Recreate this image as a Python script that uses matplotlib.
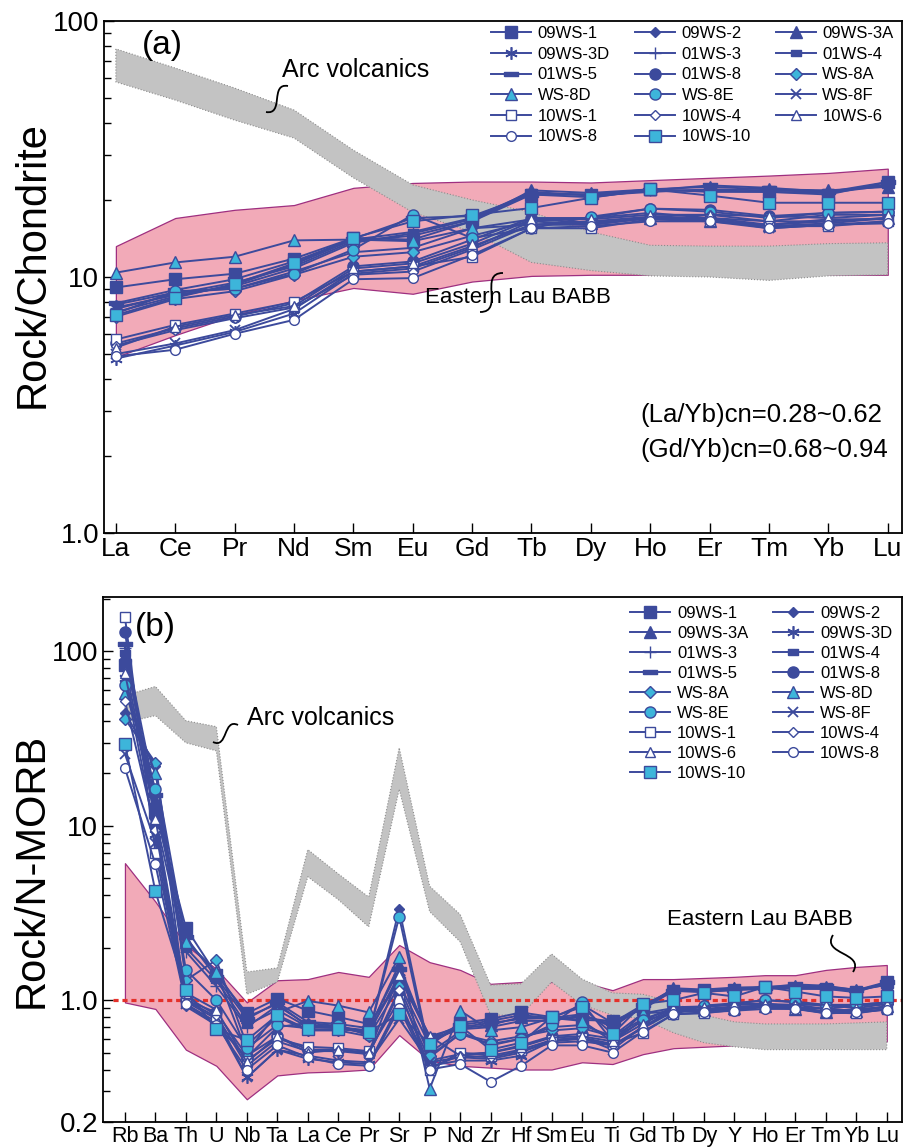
import numpy as np
import matplotlib.pyplot as plt
from matplotlib.path import Path
from matplotlib.patches import PathPatch
from matplotlib.ticker import FixedLocator, LogLocator, NullFormatter

plt.rcParams['font.family'] = ['Liberation Sans', 'DejaVu Sans']

DARK = '#3C4A9C'
LIGHT = '#3DB5DA'
PINK = '#F2AAB8'
PINK_EDGE = '#9E2F80'
GREY = '#C3C3C3'

samples = ['09WS-1', '09WS-2', '09WS-3A', '09WS-3D', '01WS-3', '01WS-4',
           '01WS-5', '01WS-8', 'WS-8A', 'WS-8D', 'WS-8E', 'WS-8F',
           '10WS-1', '10WS-4', '10WS-6', '10WS-8', '10WS-10']

# --- chondrite-normalised REE ---
ree = ['La', 'Ce', 'Pr', 'Nd', 'Sm', 'Eu', 'Gd', 'Tb', 'Dy', 'Ho', 'Er', 'Tm', 'Yb', 'Lu']
ree_values = [
    [9.1, 9.8, 10.3, 11.8, 14.2, 14.0, 16.5, 21.0, 21.0, 22.0, 21.5, 21.5, 21.0, 23.5],
    [7.8, 8.7, 9.0, 10.5, 12.5, 13.0, 15.5, 16.0, 16.0, 17.0, 16.8, 15.8, 16.2, 17.0],
    [7.5, 8.6, 9.5, 11.0, 13.8, 14.5, 16.5, 21.8, 21.3, 22.0, 22.5, 22.0, 21.8, 22.5],
    [4.8, 5.4, 6.1, 7.2, 10.3, 10.8, 13.0, 16.5, 16.0, 17.0, 17.0, 16.0, 16.8, 16.8],
    [7.6, 8.5, 9.2, 10.8, 13.6, 14.8, 16.8, 21.2, 21.0, 21.8, 21.8, 21.5, 21.3, 22.8],
    [7.3, 8.4, 9.3, 11.2, 14.0, 15.0, 17.0, 21.5, 20.8, 21.5, 22.0, 21.8, 21.5, 23.0],
    [7.9, 8.9, 9.8, 11.5, 14.1, 17.0, 17.3, 21.0, 20.5, 21.8, 22.8, 22.3, 21.5, 23.5],
    [5.5, 6.3, 7.0, 7.9, 11.0, 11.5, 14.0, 17.0, 17.0, 18.5, 18.3, 17.3, 17.8, 18.0],
    [7.0, 8.2, 8.8, 10.2, 12.0, 12.5, 14.5, 16.5, 17.0, 17.8, 17.0, 16.5, 17.5, 17.5],
    [10.4, 11.4, 12.0, 13.9, 14.0, 13.8, 15.5, 16.8, 16.3, 17.0, 16.5, 16.0, 16.5, 17.0],
    [7.2, 8.8, 9.0, 10.3, 12.8, 17.5, 14.2, 15.5, 17.2, 18.5, 18.0, 17.0, 17.8, 18.0],
    [5.0, 5.5, 6.2, 7.5, 10.5, 11.0, 13.2, 16.0, 16.2, 17.0, 16.8, 15.5, 16.0, 16.5],
    [5.7, 6.5, 7.2, 8.0, 10.5, 11.0, 12.0, 15.5, 15.5, 16.8, 16.5, 15.8, 15.8, 16.5],
    [5.4, 6.2, 6.9, 7.6, 10.2, 10.5, 12.8, 16.0, 16.5, 17.2, 17.5, 16.5, 16.5, 17.0],
    [5.3, 6.4, 7.1, 7.7, 10.8, 11.3, 13.5, 16.8, 16.8, 17.5, 17.5, 17.3, 17.0, 17.5],
    [4.9, 5.2, 6.0, 6.8, 9.8, 9.9, 12.2, 15.5, 15.8, 16.5, 16.5, 15.5, 16.0, 16.2],
    [7.1, 8.3, 9.4, 11.3, 14.2, 16.5, 17.5, 18.6, 20.4, 22.0, 20.8, 19.5, 19.5, 19.5],
]
lau_ree_hi = [13.2, 17.0, 18.3, 19.1, 22.3, 23.3, 23.6, 23.6, 23.4, 23.9, 24.4, 24.9, 25.5, 26.5]
lau_ree_lo = [4.87, 5.93, 7.1, 8.1, 9.06, 8.6, 9.6, 10.1, 10.2, 10.2, 10.2, 10.2, 10.2, 10.2]
arc_ree_hi = [77.8, 65.5, 54.7, 44.9, 31.3, 22.9, 20.0, 17.9, 15.0, 13.3, 13.2, 13.2, 13.5, 13.6]
arc_ree_lo = [57.8, 49.1, 41.0, 34.9, 24.4, 17.9, 15.0, 11.4, 10.6, 10.1, 10.0, 9.7, 10.1, 10.2]

# --- N-MORB-normalised trace elements ---
spider = ['Rb', 'Ba', 'Th', 'U', 'Nb', 'Ta', 'La', 'Ce', 'Pr', 'Sr', 'P', 'Nd', 'Zr',
          'Hf', 'Sm', 'Eu', 'Ti', 'Gd', 'Tb', 'Dy', 'Y', 'Ho', 'Er', 'Tm', 'Yb', 'Lu']
spider_values = [
    [83, 12, 2.6, 1.4, 0.84, 1.02, 0.87, 0.80, 0.73, 1.25, 0.55, 0.74, 0.78, 0.85, 0.80, 0.77, 0.76, 0.89, 1.13, 1.14, 1.15, 1.19, 1.16, 1.16, 1.11, 1.27],
    [44.6, 22, 0.92, 0.72, 0.47, 0.70, 0.74, 0.71, 0.63, 3.34, 0.50, 0.66, 0.55, 0.60, 0.70, 0.72, 0.62, 0.84, 0.86, 0.86, 0.90, 0.92, 0.90, 0.85, 0.86, 0.92],
    [95, 14, 2.2, 1.45, 0.80, 0.95, 0.71, 0.70, 0.67, 1.6, 0.58, 0.69, 0.72, 0.80, 0.78, 0.80, 0.75, 0.89, 1.17, 1.15, 1.18, 1.19, 1.21, 1.19, 1.15, 1.22],
    [70, 9, 1.0, 0.80, 0.36, 0.52, 0.46, 0.44, 0.43, 0.95, 0.42, 0.45, 0.45, 0.48, 0.58, 0.60, 0.55, 0.70, 0.89, 0.86, 0.90, 0.92, 0.91, 0.86, 0.89, 0.91],
    [105, 11, 1.9, 1.2, 0.70, 0.93, 0.72, 0.70, 0.65, 1.4, 0.60, 0.68, 0.70, 0.76, 0.76, 0.82, 0.72, 0.91, 1.14, 1.14, 1.16, 1.18, 1.17, 1.16, 1.13, 1.23],
    [98, 13, 2.0, 1.3, 0.72, 0.88, 0.70, 0.69, 0.65, 1.35, 0.62, 0.70, 0.74, 0.78, 0.79, 0.83, 0.70, 0.92, 1.16, 1.12, 1.14, 1.16, 1.18, 1.18, 1.14, 1.24],
    [110, 15, 2.3, 1.35, 0.78, 0.97, 0.75, 0.73, 0.69, 1.5, 0.60, 0.72, 0.76, 0.82, 0.79, 0.94, 0.74, 0.94, 1.13, 1.11, 1.15, 1.18, 1.23, 1.21, 1.14, 1.27],
    [129, 10, 1.0, 0.85, 0.48, 0.62, 0.52, 0.52, 0.49, 1.1, 0.45, 0.49, 0.50, 0.55, 0.62, 0.64, 0.60, 0.76, 0.91, 0.92, 0.95, 1.00, 0.98, 0.94, 0.94, 0.97],
    [41, 23, 1.3, 1.7, 0.55, 0.80, 0.67, 0.67, 0.62, 1.2, 0.48, 0.64, 0.58, 0.62, 0.67, 0.69, 0.62, 0.78, 0.89, 0.92, 0.94, 0.96, 0.91, 0.89, 0.93, 0.95],
    [58, 20, 2.16, 1.45, 0.50, 0.85, 0.99, 0.93, 0.85, 1.77, 0.31, 0.87, 0.67, 0.70, 0.79, 0.76, 0.58, 0.84, 0.90, 0.88, 0.90, 0.92, 0.89, 0.86, 0.87, 0.92],
    [64, 16.2, 1.49, 1.0, 0.53, 0.72, 0.69, 0.72, 0.63, 3.0, 0.47, 0.64, 0.56, 0.60, 0.72, 0.97, 0.58, 0.77, 0.83, 0.93, 0.96, 1.00, 0.97, 0.92, 0.94, 0.97],
    [25.8, 8, 0.95, 0.75, 0.36, 0.52, 0.48, 0.45, 0.44, 0.78, 0.44, 0.47, 0.46, 0.50, 0.59, 0.61, 0.52, 0.71, 0.86, 0.88, 0.90, 0.92, 0.90, 0.84, 0.85, 0.89],
    [157, 7, 0.98, 0.78, 0.45, 0.60, 0.54, 0.53, 0.51, 1.0, 0.40, 0.50, 0.48, 0.52, 0.59, 0.61, 0.56, 0.65, 0.83, 0.84, 0.88, 0.91, 0.89, 0.85, 0.84, 0.89],
    [52, 9.5, 1.05, 0.82, 0.42, 0.58, 0.51, 0.51, 0.49, 1.15, 0.41, 0.48, 0.47, 0.51, 0.57, 0.58, 0.55, 0.69, 0.86, 0.89, 0.92, 0.93, 0.94, 0.89, 0.87, 0.92],
    [75, 11, 1.1, 0.88, 0.44, 0.62, 0.50, 0.52, 0.50, 1.4, 0.62, 0.48, 0.50, 0.54, 0.61, 0.62, 0.58, 0.73, 0.90, 0.91, 0.95, 0.95, 0.94, 0.94, 0.90, 0.95],
    [21.4, 6, 0.95, 0.72, 0.40, 0.55, 0.47, 0.43, 0.42, 0.9, 0.40, 0.43, 0.34, 0.42, 0.55, 0.55, 0.50, 0.66, 0.83, 0.85, 0.87, 0.89, 0.89, 0.84, 0.85, 0.88],
    [29.5, 4.2, 1.14, 0.68, 0.59, 0.82, 0.68, 0.68, 0.66, 0.83, 0.56, 0.71, 0.52, 0.57, 0.80, 0.91, 0.64, 0.95, 1.00, 1.10, 1.05, 1.19, 1.12, 1.05, 1.03, 1.05],
]
lau_sp_hi = [6.1, 3.67, 2.07, 1.51, 0.97, 1.30, 1.32, 1.45, 1.36, 2.07, 1.65, 1.49, 1.24,
             1.27, 1.27, 1.27, 1.14, 1.32, 1.32, 1.34, 1.36, 1.39, 1.39, 1.49, 1.55, 1.59]
lau_sp_lo = [0.97, 0.89, 0.52, 0.42, 0.27, 0.37, 0.385, 0.39, 0.40, 0.63, 0.45, 0.42, 0.41,
             0.40, 0.40, 0.44, 0.43, 0.49, 0.53, 0.54, 0.55, 0.56, 0.56, 0.57, 0.57, 0.58]
arc_sp_hi = [55.8, 62.9, 40.0, 37.0, 1.45, 1.53, 7.3, 5.3, 3.9, 28.0, 4.5, 3.1, 1.22,
             1.24, 1.84, 1.32, 1.10, 1.08, 0.97, 0.82, 0.75, 0.73, 0.73, 0.73, 0.74, 0.75]
arc_sp_lo = [39.0, 42.8, 29.9, 26.9, 1.08, 1.27, 5.1, 3.77, 2.63, 16.2, 3.22, 2.16, 0.82,
             0.82, 1.27, 0.94, 0.82, 0.78, 0.65, 0.57, 0.54, 0.52, 0.52, 0.52, 0.52, 0.52]

# marker for each sample, same order as samples
rect_small = [(-1, -0.55), (1, -0.55), (1, 0.55), (-1, 0.55), (-1, -0.55)]
rect_flat = [(-1, -0.3), (1, -0.3), (1, 0.3), (-1, 0.3), (-1, -0.3)]
styles = [
    dict(marker='s', mfc=DARK, ms=8),
    dict(marker='D', mfc=DARK, ms=5.5),
    dict(marker='^', mfc=DARK, ms=8),
    dict(marker=(6, 2, 0), mfc=DARK, ms=9, mew=1.2),
    dict(marker='+', ms=9, mew=1.0),
    dict(marker=rect_small, mfc=DARK, ms=7),
    dict(marker=rect_flat, mfc=DARK, ms=10),
    dict(marker='o', mfc=DARK, ms=8),
    dict(marker='D', mfc=LIGHT, ms=6.5),
    dict(marker='^', mfc=LIGHT, ms=8),
    dict(marker='o', mfc=LIGHT, ms=8),
    dict(marker='x', ms=7, mew=1.3),
    dict(marker='s', mfc='white', ms=7),
    dict(marker='D', mfc='white', ms=5),
    dict(marker='^', mfc='white', ms=7),
    dict(marker='o', mfc='white', ms=7),
    dict(marker='s', mfc=LIGHT, ms=8),
]

W, H = 904, 1148


def px_box(left, top, right, bottom):
    return [left / W, 1 - bottom / H, (right - left) / W, (bottom - top) / H]


def squiggle(fig, p0, p1):
    # small S-shaped leader line, given in figure pixels
    p0 = np.array(p0, float)
    p1 = np.array(p1, float)
    d = p1 - p0
    rot = np.array([[0.5, -0.866], [0.866, 0.5]])
    c1 = p0 + 0.55 * rot @ d
    c2 = p1 - 0.55 * rot @ d
    verts = [(x / W, 1 - y / H) for x, y in (p0, c1, c2, p1)]
    path = Path(verts, [Path.MOVETO, Path.CURVE4, Path.CURVE4, Path.CURVE4])
    fig.add_artist(PathPatch(path, fc='none', ec='black', lw=1.3,
                             transform=fig.transFigure))


def draw_panel(ax, labels, values, lau_hi, lau_lo, arc_hi, arc_lo):
    x = np.arange(len(labels))
    ax.fill_between(x, lau_lo, lau_hi, facecolor=PINK, edgecolor=PINK_EDGE,
                    lw=0.9, zorder=1)
    ax.fill_between(x, arc_lo, arc_hi, facecolor=GREY, edgecolor='#8C8C8C',
                    lw=0.8, linestyle=':', zorder=2)
    handles = []
    for name, vals, st in zip(samples, values, styles):
        st = dict(st)
        ln, = ax.plot(x, vals, color=DARK, lw=1.4, mec=DARK,
                      mew=st.pop('mew', 1.0), label=name, zorder=3, **st)
        handles.append(ln)
    ax.set_yscale('log')
    ax.set_xticks(x)
    ax.set_xticklabels(labels)
    ax.tick_params(which='both', direction='in', width=1.0)
    ax.tick_params(which='major', length=7)
    ax.tick_params(which='minor', length=5)
    for sp in ax.spines.values():
        sp.set_linewidth(1.3)
    return handles


fig = plt.figure(figsize=(W / 100, H / 100), dpi=100)

# ---------------- (a) REE ----------------
ax1 = fig.add_axes(px_box(104, 21, 902, 533))
h1 = draw_panel(ax1, ree, ree_values, lau_ree_hi, lau_ree_lo, arc_ree_hi, arc_ree_lo)
ax1.set_xlim(-0.2, len(ree) - 1 + 0.24)
ax1.set_ylim(1, 100)
ax1.yaxis.set_major_locator(FixedLocator([1, 10, 100]))
ax1.set_yticklabels(['1.0', '10', '100'])
ax1.yaxis.set_minor_locator(LogLocator(base=10, subs=np.arange(2, 10)))
ax1.yaxis.set_minor_formatter(NullFormatter())
ax1.tick_params(axis='y', labelsize=20)
ax1.tick_params(axis='x', labelsize=19, pad=3)
ax1.set_ylabel('Rock/Chondrite', fontsize=30)
ax1.yaxis.set_label_coords(-0.064, 0.525)

order_a = [0, 3, 6, 9, 12, 15, 1, 4, 7, 10, 13, 16, 2, 5, 8, 11, 14]
ax1.legend([h1[i] for i in order_a], [samples[i] for i in order_a], ncol=3,
           loc='upper left', bbox_to_anchor=(0.485, 0.99), frameon=False,
           fontsize=12, handlelength=2.4, handletextpad=0.4, columnspacing=1.5,
           labelspacing=0.34, borderpad=0, borderaxespad=0)

ax1.text(0.073, 0.953, '(a)', transform=ax1.transAxes, fontsize=24,
         ha='center', va='center')
ax1.text(0.223, 0.904, 'Arc volcanics', transform=ax1.transAxes, fontsize=18,
         ha='left', va='center')
ax1.text(0.402, 0.459, 'Eastern Lau BABB', transform=ax1.transAxes, fontsize=16,
         ha='left', va='center')
ax1.text(0.672, 0.230, '(La/Yb)cn=0.28~0.62', transform=ax1.transAxes,
         fontsize=18.5, ha='left', va='center')
ax1.text(0.672, 0.162, '(Gd/Yb)cn=0.68~0.94', transform=ax1.transAxes,
         fontsize=18.5, ha='left', va='center')

# ---------------- (b) spider ----------------
ax2 = fig.add_axes(px_box(103, 597, 902, 1122))
h2 = draw_panel(ax2, spider, spider_values, lau_sp_hi, lau_sp_lo, arc_sp_hi, arc_sp_lo)
ax2.axhline(1.0, xmin=0.0125, color='#E4312B', lw=2.3, dashes=(1.6, 1.2), zorder=2.5)
ax2.set_xlim(-0.72, len(spider) - 1 + 0.5)
ax2.set_ylim(0.2, 205)
ax2.yaxis.set_major_locator(FixedLocator([0.2, 1, 10, 100]))
ax2.set_yticklabels(['0.2', '1.0', '10', '100'])
ax2.yaxis.set_minor_locator(LogLocator(base=10, subs=np.arange(2, 10)))
ax2.yaxis.set_minor_formatter(NullFormatter())
ax2.tick_params(axis='y', labelsize=20)
ax2.tick_params(axis='x', labelsize=15.5, pad=3)
ax2.set_ylabel('Rock/N-MORB', fontsize=30)
ax2.yaxis.set_label_coords(-0.064, 0.48)

order_b = [0, 2, 4, 6, 8, 10, 12, 14, 16, 1, 3, 5, 7, 9, 11, 13, 15]
ax2.legend([h2[i] for i in order_b], [samples[i] for i in order_b], ncol=2,
           loc='upper left', bbox_to_anchor=(0.66, 0.983), frameon=False,
           fontsize=12, handlelength=2.4, handletextpad=0.4, columnspacing=1.5,
           labelspacing=0.3, borderpad=0, borderaxespad=0)

ax2.text(0.065, 0.941, '(b)', transform=ax2.transAxes, fontsize=24,
         ha='center', va='center')
ax2.text(0.18, 0.770, 'Arc volcanics', transform=ax2.transAxes, fontsize=18,
         ha='left', va='center')
ax2.text(0.706, 0.385, 'Eastern Lau BABB', transform=ax2.transAxes, fontsize=16,
         ha='left', va='center')

# leader lines from labels to fields
squiggle(fig, (266, 112), (288, 86))
squiggle(fig, (480, 312), (503, 273))
squiggle(fig, (213, 742), (238, 725))
squiggle(fig, (833, 935), (853, 972))

fig.savefig('out.png', dpi=100)
